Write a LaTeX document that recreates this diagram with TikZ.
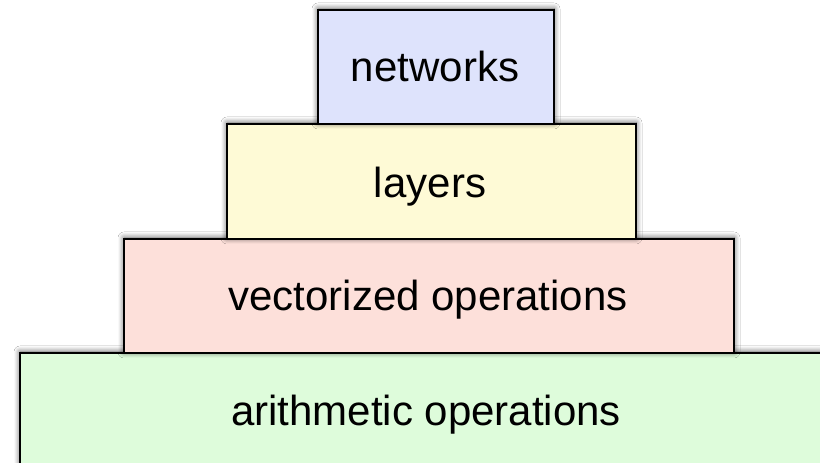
\documentclass[tikz,border=0pt]{standalone}
\usepackage{fontspec}
\setmainfont{Liberation Sans}
\usetikzlibrary{shadows.blur}
\definecolor{netfill}{HTML}{DEE3FC}
\definecolor{layfill}{HTML}{FEFAD6}
\definecolor{vecfill}{HTML}{FDE0DA}
\definecolor{arifill}{HTML}{DEFCDB}
\tikzset{
  tier/.style={draw=black, line width=2pt,
    blur shadow={shadow xshift=0pt, shadow yshift=1pt,
      shadow blur radius=6pt, shadow opacity=65, shadow blur steps=10}},
  label/.style={font=\fontsize{42}{48}\selectfont, anchor=base, inner sep=0pt}
}
\begin{document}
\begin{tikzpicture}[x=1pt,y=1pt]
  \useasboundingbox (0,0) rectangle (820,463);
  \fill[white] (0,0) rectangle (820,463);
  \clip (0,0) rectangle (820,463);
  % the four tiers, widest at the bottom
  \path[tier, fill=arifill] (20,-20) rectangle (860,110);
  \path[tier, fill=vecfill] (124,110) rectangle (734,224);
  \path[tier, fill=layfill] (227,224) rectangle (636,339);
  \path[tier, fill=netfill] (318,339) rectangle (554,453);
  % labels
  \node[label] (ari) at (426,37) {arithmetic operations};
  \node[label] (vec) at (428,152) {vectorized operations};
  \node[label] (lay) at (430,265) {layers};
  \node[label] (net) at (435,381) {networks};
\end{tikzpicture}
\end{document}
